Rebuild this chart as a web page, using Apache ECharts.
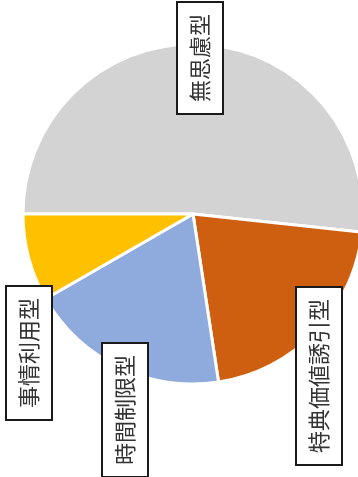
<!DOCTYPE html>
<html><head><meta charset="utf-8">
<script src="https://cdn.jsdelivr.net/npm/echarts@6/dist/echarts.min.js"></script>
<style>html,body{margin:0;padding:0;background:#fff}#c{width:358px;height:477px}</style>
</head><body><div id="c"></div>
<script>
const categories = ['無思慮型', '特典価値誘引型', '時間制限型', '事情利用型'];
const values = [51.7, 20.9, 19.1, 8.3];
const colors = ['#d3d3d3', '#cf5f10', '#8faadc', '#ffc000'];
// label box centres (layout only)
const labelPos = [[200, 58], [319, 376], [125, 410], [29, 353]];

const chart = echarts.init(document.getElementById('c'), null, {renderer: 'canvas'});
chart.setOption({
  animation: false,
  backgroundColor: '#fff',
  series: [{
    type: 'pie',
    center: [193, 214],
    radius: 170,
    startAngle: 180,
    clockwise: true,
    avoidLabelOverlap: false,
    itemStyle: {borderColor: '#fff', borderWidth: 3},
    label: {
      show: true,
      position: 'inside',
      rotate: 90,
      formatter: '{b}',
      fontFamily: '"Noto Sans CJK JP"',
      fontSize: 22,
      color: '#333',
      backgroundColor: '#fff',
      borderColor: '#1a1a1a',
      borderWidth: 2,
      padding: [12, 11, 10, 11]
    },
    labelLine: {show: false},
    labelLayout: function (p) {
      const pos = labelPos[p.dataIndex];
      return {x: pos[0], y: pos[1], align: 'center', verticalAlign: 'middle'};
    },
    data: categories.map((n, i) => ({name: n, value: values[i], itemStyle: {color: colors[i]}}))
  }]
});
</script></body></html>
